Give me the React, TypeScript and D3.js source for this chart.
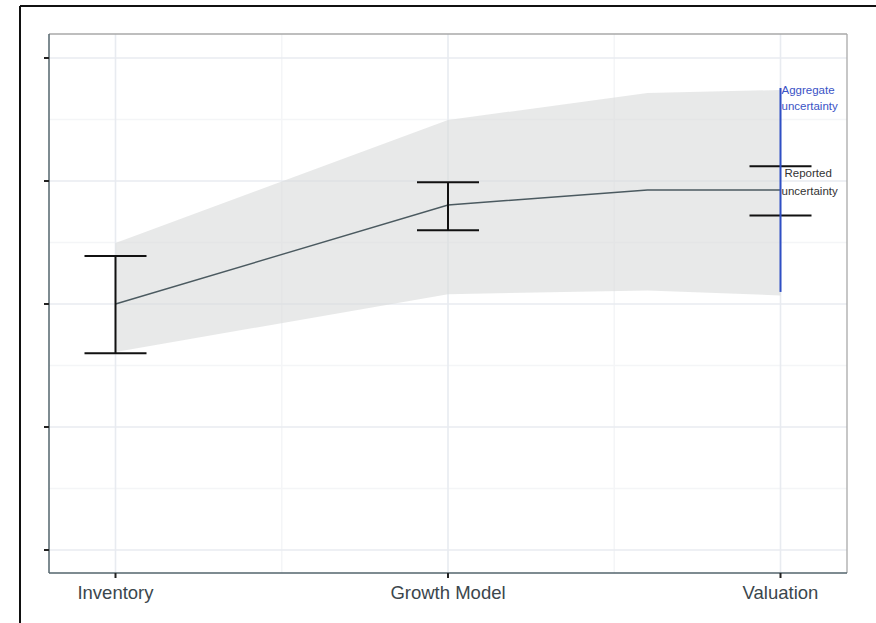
import React from "react";
import * as d3 from "d3";

// Stages along the horizontal axis
const stages = ["Inventory", "Growth Model", "Valuation"];
const stagePositions = [1, 2, 3];

// Central estimate path (x position, value)
const lineX = [1, 2, 2.6, 3];
const lineY = [2.0, 2.805, 2.927, 2.927];

// Aggregate uncertainty band
const bandX = [1, 2, 2.6, 3];
const bandLow = [1.61, 2.08, 2.11, 2.07];
const bandHigh = [2.496, 3.496, 3.715, 3.74];

// Reported uncertainty error bars per stage
const errLow = [1.6, 2.6, 2.72];
const errHigh = [2.39, 2.99, 3.12];

// Aggregate uncertainty range at the last stage
const aggLow = 2.098;
const aggHigh = 3.756;

// Axis ticks (unlabelled)
const yTicks = [0, 1, 2, 3, 4];
const yMinor = [0.5, 1.5, 2.5, 3.5];
const xMinor = [1.5, 2.5];

const W = 876;
const H = 623;
const panel = { left: 49, right: 847, top: 34, bottom: 573 };

export default function App() {
  const x = d3.scaleLinear().domain([0.8, 3.2]).range([panel.left, panel.right]);
  const y = d3.scaleLinear().domain([-0.187, 4.195]).range([panel.bottom, panel.top]);

  const area = d3
    .area<number>()
    .x((_, i) => x(bandX[i]))
    .y0((_, i) => y(bandLow[i]))
    .y1((_, i) => y(bandHigh[i]));

  const line = d3
    .line<number>()
    .x((_, i) => x(lineX[i]))
    .y((d) => y(d));

  const capHalf = 31;
  const font = "'Liberation Sans', Arial, Helvetica, sans-serif";

  return (
    <svg
      width={W}
      height={H}
      style={{ position: "absolute", left: 0, top: 0, background: "#fff" }}
    >
      {/* outer frame */}
      <line x1={20} y1={6} x2={W} y2={6} stroke="#111" strokeWidth={2} />
      <line x1={20} y1={6} x2={20} y2={H} stroke="#111" strokeWidth={2} />

      {/* panel background */}
      <rect
        x={panel.left}
        y={panel.top}
        width={panel.right - panel.left}
        height={panel.bottom - panel.top}
        fill="#fff"
      />

      {/* minor grid */}
      {yMinor.map((v) => (
        <line key={"ym" + v} x1={panel.left} x2={panel.right} y1={y(v)} y2={y(v)} stroke="#f4f5f7" strokeWidth={1.5} />
      ))}
      {xMinor.map((v) => (
        <line key={"xm" + v} x1={x(v)} x2={x(v)} y1={panel.top} y2={panel.bottom} stroke="#f4f5f7" strokeWidth={1.5} />
      ))}
      {/* major grid */}
      {yTicks.map((v) => (
        <line key={"yg" + v} x1={panel.left} x2={panel.right} y1={y(v)} y2={y(v)} stroke="#e8ebf0" strokeWidth={1.6} />
      ))}
      {stagePositions.map((v) => (
        <line key={"xg" + v} x1={x(v)} x2={x(v)} y1={panel.top} y2={panel.bottom} stroke="#e8ebf0" strokeWidth={1.6} />
      ))}

      {/* aggregate uncertainty band */}
      <path d={area(bandX) || ""} fill="#d9dadb" fillOpacity={0.6} />

      {/* central estimate */}
      <path d={line(lineY) || ""} fill="none" stroke="#4b5a60" strokeWidth={1.4} />

      {/* reported uncertainty error bars */}
      {stagePositions.map((p, i) => (
        <g key={"eb" + i} stroke="#111" strokeWidth={2}>
          {i < 2 && <line x1={x(p)} x2={x(p)} y1={y(errLow[i])} y2={y(errHigh[i])} />}
          <line x1={x(p) - capHalf} x2={x(p) + capHalf} y1={y(errLow[i])} y2={y(errLow[i])} />
          <line x1={x(p) - capHalf} x2={x(p) + capHalf} y1={y(errHigh[i])} y2={y(errHigh[i])} />
        </g>
      ))}

      {/* aggregate uncertainty range */}
      <line x1={x(3)} x2={x(3)} y1={y(aggLow)} y2={y(aggHigh)} stroke="#2f4fc4" strokeWidth={2} />

      {/* annotations */}
      <g fontFamily={font} fontSize={11.5}>
        <text x={x(3) + 1} y={94} fill="#3a52c6">Aggregate</text>
        <text x={x(3) + 1} y={110} fill="#3a52c6">uncertainty</text>
        <text x={x(3) + 4} y={177} fill="#333">Reported</text>
        <text x={x(3) + 1} y={195} fill="#333">uncertainty</text>
      </g>

      {/* panel border */}
      <line x1={panel.left} x2={panel.right} y1={panel.top} y2={panel.top} stroke="#a9a9a9" strokeWidth={1.3} />
      <line x1={panel.right} x2={panel.right} y1={panel.top} y2={panel.bottom} stroke="#a9a9a9" strokeWidth={1.3} />
      <line x1={panel.left} x2={panel.left} y1={panel.top} y2={panel.bottom} stroke="#53656d" strokeWidth={1.5} />
      <line x1={panel.left} x2={panel.right} y1={panel.bottom} y2={panel.bottom} stroke="#53656d" strokeWidth={1.5} />

      {/* y ticks */}
      {yTicks.map((v) => (
        <line key={"yt" + v} x1={panel.left - 5} x2={panel.left} y1={y(v)} y2={y(v)} stroke="#222" strokeWidth={2} />
      ))}
      {/* x ticks and labels */}
      {stagePositions.map((p, i) => (
        <g key={"xt" + i}>
          <line x1={x(p)} x2={x(p)} y1={panel.bottom} y2={panel.bottom + 5} stroke="#222" strokeWidth={2} />
          <text
            x={x(p)}
            y={599}
            textAnchor="middle"
            fontFamily={font}
            fontSize={18.5}
            fill="#3b464c"
          >
            {stages[i]}
          </text>
        </g>
      ))}
    </svg>
  );
}
